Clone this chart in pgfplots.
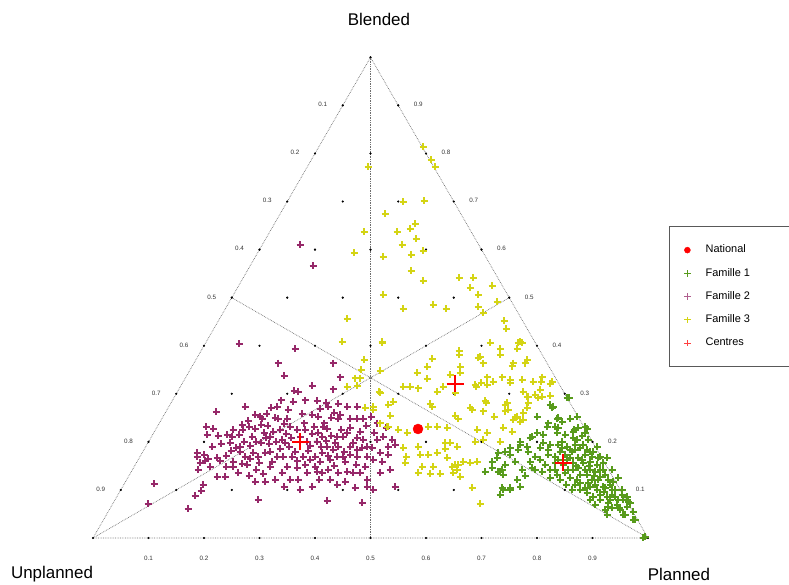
\documentclass[border=0pt]{standalone}
\usepackage{fontspec}
\setmainfont{Liberation Sans}
\usepackage{pgfplots}
\usepackage{pgfplotstable}
\pgfplotsset{compat=1.18}
\definecolor{famone}{RGB}{88,155,28}
\definecolor{famtwo}{RGB}{150,40,105}
\definecolor{famthree}{RGB}{212,212,20}
\definecolor{gridgray}{RGB}{110,110,110}

% lattice of the 0.1 ternary grid: b = blended (tenths), p = planned (tenths)
\pgfplotstableread[row sep=\\]{b p\\
0 0\\0 1\\0 2\\0 3\\0 4\\0 5\\0 6\\0 7\\0 8\\0 9\\0 10\\
1 0\\1 1\\1 2\\1 3\\1 4\\1 5\\1 6\\1 7\\1 8\\1 9\\
2 0\\2 1\\2 2\\2 3\\2 4\\2 5\\2 6\\2 7\\2 8\\
3 0\\3 1\\3 2\\3 3\\3 4\\3 5\\3 6\\3 7\\
4 0\\4 1\\4 2\\4 3\\4 4\\4 5\\4 6\\
5 0\\5 1\\5 2\\5 3\\5 4\\5 5\\
6 0\\6 1\\6 2\\6 3\\6 4\\
7 0\\7 1\\7 2\\7 3\\
8 0\\8 1\\8 2\\
9 0\\9 1\\
10 0\\}\lattice

% Famille 1 (px, py)
\pgfplotstableread[row sep=\\]{px py\\
550 405\\553 407\\558 418\\570 419\\562 422\\548 423\\555 427\\578 428\\587 429\\537 433\\543 435\\530 438\\557 433\\565 435\\573 438\\577 440\\
520 445\\527 447\\518 450\\543 443\\550 445\\548 450\\558 445\\562 448\\567 447\\570 450\\575 445\\580 448\\587 450\\593 452\\597 447\\600 457\\
505 452\\510 455\\497 458\\535 457\\540 460\\530 462\\555 457\\555 463\\570 458\\573 463\\578 458\\583 463\\590 462\\597 465\\603 463\\607 458\\
492 468\\502 470\\503 475\\522 470\\532 468\\542 472\\550 470\\557 475\\565 473\\570 478\\580 475\\587 475\\592 480\\600 477\\608 480\\550 478\\
560 480\\517 480\\520 487\\510 488\\503 490\\500 495\\580 483\\590 487\\597 490\\603 487\\610 485\\615 490\\587 493\\593 497\\600 495\\607 497\\
622 495\\623 500\\608 503\\612 508\\617 505\\607 515\\627 507\\625 515\\633 520\\645 537\\552 408\\537 417\\557 419\\577 417\\567 398\\585 427\\
573 432\\585 433\\558 428\\547 427\\532 437\\520 442\\510 448\\498 453\\492 462\\485 472\\500 472\\510 490\\613 482\\622 490\\627 497\\630 503\\
633 512\\608 507\\623 515\\635 520\\643 538\\569 398\\565 455\\572 452\\585 455\\592 457\\578 468\\585 470\\595 472\\563 465\\568 470\\575 485\\
585 488\\595 485\\555 470\\545 465\\560 452\\583 445\\588 440\\600 470\\605 475\\612 470\\618 478\\600 500\\615 497\\590 500\\595 505\\605 510\\
612 495\\580 490\\572 490\\498 472\\502 488\\567 460\\576 466\\589 466\\594 476\\562 442\\574 430\\582 436\\604 492\\619 508\\575 450\\590 452\\
598 458\\582 460\\573 470\\590 470\\598 480\\605 488\\612 490\\618 500\\610 500\\620 510\\628 502\\603 470\\588 483\\577 480\\566 485\\558 460\\
548 455\\540 448\\528 452\\515 462\\505 465\\535 470\\525 476\\}\famA

% Famille 2
\pgfplotstableread[row sep=\\]{px py\\
239 344\\295 349\\278 363\\333 363\\284 376\\340 377\\312 386\\294 391\\298 392\\333 389\\245 407\\216 412\\281 400\\293 402\\271 408\\277 407\\
267 414\\288 410\\317 401\\326 403\\320 409\\328 407\\338 404\\347 407\\357 407\\334 413\\340 415\\255 415\\260 417\\275 418\\278 419\\287 419\\
284 424\\248 421\\242 425\\302 414\\304 423\\312 415\\318 417\\324 423\\323 427\\327 429\\331 418\\338 419\\350 419\\357 419\\363 419\\371 417\\
377 423\\206 427\\213 429\\218 436\\207 435\\227 435\\233 430\\239 435\\232 437\\249 427\\255 429\\261 425\\264 433\\268 426\\273 432\\280 430\\
290 427\\297 430\\305 430\\312 434\\318 433\\322 437\\331 436\\337 437\\343 437\\350 428\\347 433\\357 438\\363 440\\367 447\\372 448\\197 453\\
197 457\\204 455\\200 463\\205 461\\208 459\\217 458\\220 461\\230 443\\231 451\\240 447\\244 442\\250 446\\256 442\\261 443\\266 438\\269 444\\
276 442\\282 440\\285 443\\289 447\\295 452\\292 457\\307 442\\310 446\\317 442\\321 447\\327 447\\333 450\\328 456\\338 447\\344 452\\350 447\\
357 450\\362 448\\240 452\\245 457\\253 453\\258 457\\265 453\\270 452\\277 457\\283 457\\303 457\\310 460\\315 457\\322 453\\330 460\\337 457\\
343 457\\350 455\\357 457\\367 457\\373 460\\198 470\\210 467\\217 477\\225 477\\233 462\\233 467\\238 473\\247 465\\249 476\\256 470\\255 482\\
265 482\\275 480\\270 467\\282 473\\287 467\\297 468\\298 480\\307 473\\315 467\\317 472\\322 473\\328 470\\338 473\\347 472\\353 473\\360 473\\
367 480\\154 484\\148 504\\188 509\\203 485\\201 491\\195 496\\258 500\\290 480\\312 487\\327 501\\337 485\\362 503\\367 487\\373 490\\300 245\\
313 266\\388 447\\395 445\\380 453\\383 437\\377 440\\382 462\\390 470\\380 473\\395 487\\386 428\\392 440\\374 433\\388 455\\262 419\\270 437\\
286 434\\300 437\\308 451\\314 427\\326 441\\335 443\\341 430\\353 443\\360 432\\366 426\\252 437\\243 430\\236 448\\226 456\\212 447\\221 444\\
259 463\\272 462\\280 449\\297 461\\305 465\\320 462\\334 466\\345 462\\356 465\\365 467\\250 459\\242 464\\226 467\\284 487\\300 490\\319 480\\
330 480\\345 482\\355 488\\263 474\\291 438\\305 400\\}\famB

% Famille 3
\pgfplotstableread[row sep=\\]{px py\\
423 147\\431 160\\435 167\\368 167\\403 202\\424 201\\385 214\\364 232\\397 232\\410 229\\415 224\\416 239\\402 245\\354 253\\383 257\\411 255\\
423 251\\411 271\\423 281\\459 278\\473 278\\470 288\\492 286\\478 295\\383 295\\403 309\\433 305\\446 309\\478 307\\483 313\\497 302\\504 321\\
506 329\\347 319\\342 342\\382 342\\364 360\\380 371\\360 378\\357 386\\365 408\\373 407\\380 393\\355 378\\347 387\\361 370\\459 351\\459 355\\
490 343\\500 349\\518 343\\522 343\\517 349\\480 357\\483 363\\513 363\\525 363\\432 359\\427 367\\460 367\\417 373\\427 379\\460 373\\450 375\\
487 377\\481 383\\522 380\\476 387\\487 385\\403 387\\410 387\\418 388\\437 392\\443 387\\455 393\\379 392\\523 392\\527 397\\507 403\\486 403\\
393 402\\388 405\\430 404\\432 407\\470 408\\483 411\\508 410\\517 417\\523 420\\513 420\\455 416\\458 419\\390 416\\373 410\\428 427\\437 427\\
447 428\\477 430\\487 433\\398 430\\407 433\\388 427\\450 443\\445 443\\457 447\\475 442\\483 440\\418 447\\403 448\\428 455\\447 458\\463 462\\
470 463\\477 462\\405 463\\420 455\\422 467\\433 467\\452 467\\458 465\\418 473\\430 474\\440 474\\453 473\\460 477\\445 449\\455 465\\457 470\\
472 488\\480 504\\437 453\\380 423\\387 427\\406 457\\493 382\\510 383\\533 382\\541 382\\552 382\\535 395\\542 397\\550 396\\505 405\\528 403\\
527 408\\523 413\\494 417\\515 418\\520 422\\503 428\\512 432\\500 442\\520 342\\478 358\\500 355\\512 366\\527 360\\475 385\\502 377\\510 380\\
542 377\\550 384\\528 397\\538 398\\540 390\\485 401\\505 411\\472 410\\382 343\\}\famC

\begin{document}
\begin{tikzpicture}
\useasboundingbox (0bp,0bp) rectangle (789bp,585bp);
\clip (0bp,0bp) rectangle (789bp,585bp);
\begin{axis}[
  at={(0bp,0bp)}, anchor=south west,
  scale only axis, width=789bp, height=585bp,
  xmin=-0.167568, xmax=1.254054, ymin=-0.084685, ymax=0.969369,
  hide axis, clip=false,
  legend image code/.code={\path (0bp,0bp) (17bp,0bp);
    \draw[mark repeat=2,mark phase=2,#1] plot coordinates {(0bp,0bp) (8.5bp,0bp) (17bp,0bp)};},
  legend style={draw=none, fill=none,
    at={(rel axis cs:0.8479,0.6125)}, anchor=north west,
    inner xsep=9.5bp, inner ysep=18bp, row sep=12.75bp, column sep=9.5bp,
    nodes={inner sep=0pt, text height=8bp, text depth=2.5bp,
           font=\fontsize{11}{13}\selectfont},
    cells={anchor=west}},
]
% legend
\addlegendimage{only marks, mark=*, color=red, mark size=3bp, mark options={draw=red, fill=red}}
\addlegendentry{National}
\addlegendimage{only marks, mark=+, color=famone, mark size=3.3bp, mark options={draw=famone, line width=1.15bp}}
\addlegendentry{Famille 1}
\addlegendimage{only marks, mark=+, color=famtwo!75, mark size=3.3bp, mark options={draw=famtwo!75, line width=1.15bp}}
\addlegendentry{Famille 2}
\addlegendimage{only marks, mark=+, color=famthree, mark size=3.3bp, mark options={draw=famthree, line width=1.15bp}}
\addlegendentry{Famille 3}
\addlegendimage{only marks, mark=+, color=red!75, mark size=3.3bp, mark options={draw=red!75, line width=1.15bp}}
\addlegendentry{Centres}

% triangle and medians
\addplot[forget plot, gridgray, densely dotted, line width=0.7bp]
  coordinates {(0,0) (1,0) (0.5,0.866025) (0,0)};
\addplot[forget plot, gridgray, densely dotted, line width=0.7bp]
  coordinates {(0.5,0.866025) (0.5,0)};
\addplot[forget plot, gridgray, densely dotted, line width=0.7bp]
  coordinates {(0,0) (0.75,0.433013)};
\addplot[forget plot, gridgray, densely dotted, line width=0.7bp]
  coordinates {(1,0) (0.25,0.433013)};

% lattice dots
\addplot[forget plot, only marks, mark=*, color=black, mark size=0.9bp]
  table[x expr={(\thisrow{p}+\thisrow{b}/2)/10}, y expr={\thisrow{b}*0.0866025}] {\lattice};
\addplot[forget plot, only marks, mark=o, color=gridgray, mark size=1.3bp]
  coordinates {(0.5,0.288675)};

% families
\addplot[forget plot, only marks, mark=+, mark size=3.5bp, color=famone,
  mark options={draw=famone, line width=1.15bp}]
  table[x expr={(\thisrow{px}-93)/555}, y expr={(538-\thisrow{py})/555}] {\famA};
\addplot[forget plot, only marks, mark=+, mark size=3.5bp, color=famtwo,
  mark options={draw=famtwo, line width=1.15bp}]
  table[x expr={(\thisrow{px}-93)/555}, y expr={(538-\thisrow{py})/555}] {\famB};
\addplot[forget plot, only marks, mark=+, mark size=3.5bp, color=famthree,
  mark options={draw=famthree, line width=1.15bp}]
  table[x expr={(\thisrow{px}-93)/555}, y expr={(538-\thisrow{py})/555}] {\famC};

% centres
\addplot[forget plot, only marks, mark=+, mark size=8.5bp, color=red,
  mark options={draw=red, line width=2.3bp}]
  table[row sep=\\, x expr={(\thisrow{px}-93)/555}, y expr={(538-\thisrow{py})/555}]
  {px py\\ 300 442\\ 455 384\\ 563 463\\};
% national
\addplot[forget plot, only marks, mark=*, color=red, mark size=5bp,
  mark options={draw=red, fill=red}]
  table[row sep=\\, x expr={(\thisrow{px}-93)/555}, y expr={(538-\thisrow{py})/555}]
  {px py\\ 418 429\\};
\end{axis}

% legend frame (cut by the right edge of the picture)
\draw[black!65, line width=0.9bp] (669bp,218.3bp) rectangle (800bp,358.3bp);

% axis titles
\node[font=\fontsize{17}{20}\selectfont] at (379bp,566bp) {Blended};
\node[font=\fontsize{17}{20}\selectfont] at (52bp,11bp) {Unplanned};
\node[font=\fontsize{17}{20}\selectfont] at (679bp,11bp) {Planned};

% scale labels
\foreach \b/\l in {9/0.1,8/0.2,7/0.3,6/0.4,5/0.5,4/0.6,3/0.7,2/0.8,1/0.9}{
  \node[font=\fontsize{6.3}{7}\selectfont, text=black!80] at ({(73+27.75*\b)*1bp},{(47+48.2*\b)*1bp}) {\l};
}
\foreach \b/\l in {9/0.9,8/0.8,7/0.7,6/0.6,5/0.5,4/0.4,3/0.3,2/0.2,1/0.1}{
  \node[font=\fontsize{6.3}{7}\selectfont, text=black!80] at ({(668-27.75*\b)*1bp},{(47+48.2*\b)*1bp}) {\l};
}
\foreach \p/\l in {1/0.1,2/0.2,3/0.3,4/0.4,5/0.5,6/0.6,7/0.7,8/0.8,9/0.9}{
  \node[font=\fontsize{6.3}{7}\selectfont, text=black!80] at ({(93+55.5*\p)*1bp},27bp) {\l};
}
\end{tikzpicture}
\end{document}
